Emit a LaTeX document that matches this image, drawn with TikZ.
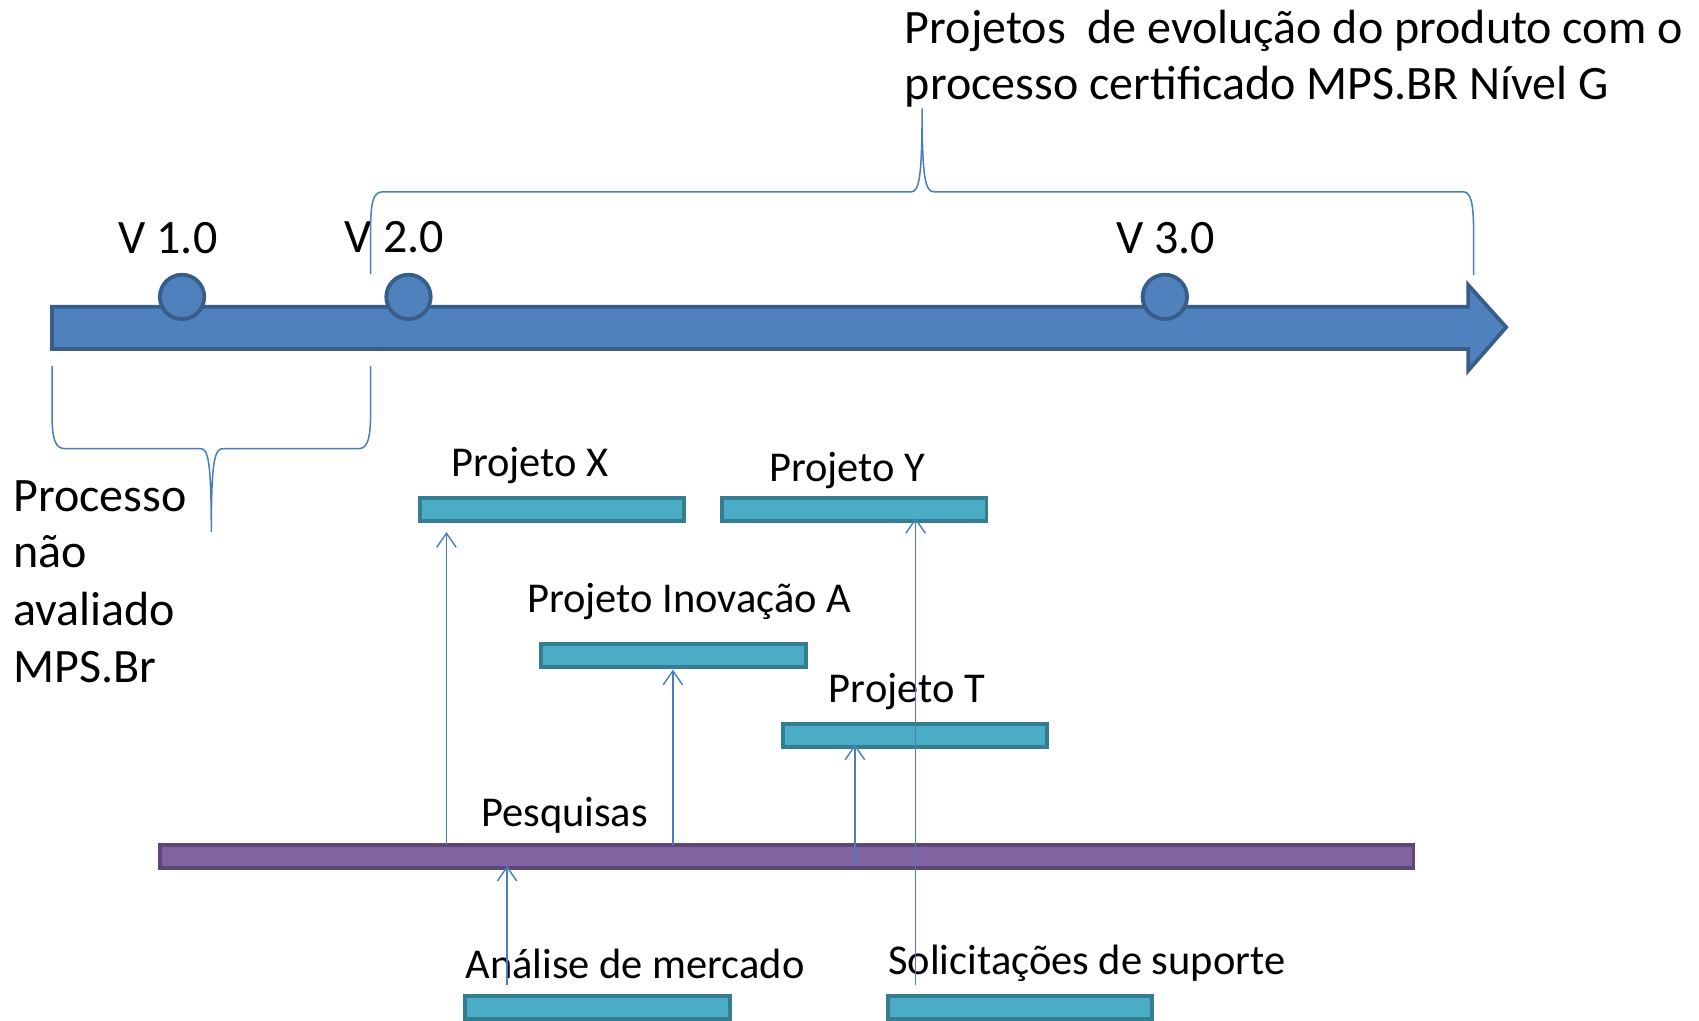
\documentclass[tikz,border=0pt]{standalone}
\usepackage{fontspec}
\setmainfont{Carlito}
\usetikzlibrary{arrows.meta}
\definecolor{arrowfill}{HTML}{4F81BD}
\definecolor{arrowline}{HTML}{385D8A}
\definecolor{boxfill}{HTML}{4BACC6}
\definecolor{boxline}{HTML}{357D91}
\definecolor{purpfill}{HTML}{8064A2}
\definecolor{purpline}{HTML}{5C4776}
\definecolor{conn}{HTML}{4A7EBB}
\tikzset{
  big/.style={font=\fontsize{44.3}{53}\selectfont, inner sep=0pt},
  small/.style={font=\fontsize{39.2}{47}\selectfont, inner sep=0pt},
  milestone/.style={circle, draw=arrowline, fill=arrowfill, line width=3.5pt, minimum size=41pt, inner sep=0pt},
  bar/.style={draw=boxline, fill=boxfill, line width=3.5pt, minimum width=244pt, minimum height=21pt, inner sep=0pt},
  pbar/.style={draw=purpline, fill=purpfill, line width=3.5pt, minimum width=1157pt, minimum height=21pt, inner sep=0pt},
  brace/.style={draw=conn, line width=1.4pt},
  link/.style={draw=conn, line width=1.3pt, -{Straight Barb[length=13pt, width=18pt, line width=1.3pt]}}
}
\begin{document}
\begin{tikzpicture}[x=1pt, y=-1pt]
\useasboundingbox (0,0) rectangle (1568,942);
% main timeline arrow
\draw[draw=arrowline, fill=arrowfill, line width=3.5pt, line join=miter]
  (48,283) -- (1355,283) -- (1355,263) -- (1390,302) -- (1355,342) -- (1355,322) -- (48,322) -- cycle;
\node[milestone] (m1) at (168,274) {};
\node[milestone] (m2) at (377,274) {};
\node[milestone] (m3) at (1075,274) {};
\node[big, anchor=base] (v1) at (155,234) {V 1.0};
\node[big, anchor=base] (v2) at (364,233) {V 2.0};
\node[big, anchor=base] (v3) at (1076,234) {V 3.0};
% upper brace
\draw[brace] (342,253) -- (342,215) .. controls (342,183) and (345,177) .. (354,177) -- (841,177)
  .. controls (848,177) and (851,165) .. (851,100)
  .. controls (851,165) and (854,177) .. (862,177) -- (1350,177)
  .. controls (1357,177) and (1360,185) .. (1360,215) -- (1360,254);
\node[big, anchor=base west] (t1) at (835,40) {Projetos\ \ de evolução do produto com o};
\node[big, anchor=base west] (t2) at (835,92) {processo certificado MPS.BR Nível G};
% lower brace
\draw[brace] (48,338) -- (48,382) .. controls (48,408) and (52,414) .. (60,414) -- (185,414)
  .. controls (192,414) and (195,425) .. (195,491)
  .. controls (195,425) and (198,414) .. (206,414) -- (331,414)
  .. controls (338,414) and (342,408) .. (342,382) -- (342,338);
\node[big, anchor=base west] (p1) at (12,472) {Processo};
\node[big, anchor=base west] (p2) at (12,524) {não};
\node[big, anchor=base west] (p3) at (12,577) {avaliado};
\node[big, anchor=base west] (p4) at (12,630) {MPS.Br};
% project bars
\node[bar] (bx) at (509.5,470) {};
\node[bar] (by) at (788.5,470) {};
\node[bar] (ba) at (621.5,605) {};
\node[bar] (bt) at (844.5,679) {};
\node[pbar] (bp) at (726,790.5) {};
\node[bar] (bm) at (551.5,930) {};
\node[bar] (bs) at (941.5,930) {};
\node[small, anchor=base] (lx) at (489,440) {Projeto X};
\node[small, anchor=base] (ly) at (782,444) {Projeto Y};
\node[small, anchor=base] (la) at (636,565) {Projeto Inovação A};
\node[small, anchor=base] (lt) at (837,648) {Projeto T};
\node[small, anchor=base] (lp) at (521,763) {Pesquisas};
\node[small, anchor=base] (lm) at (586,903) {Análise de mercado};
\node[small, anchor=base] (ls) at (1003,899) {Solicitações de suporte};
% connectors
\coordinate (a1s) at (412,780); \coordinate (a1e) at (412,491);
\coordinate (a2s) at (621,780); \coordinate (a2e) at (621,618);
\coordinate (a3s) at (789,798); \coordinate (a3e) at (789,687);
\coordinate (a4s) at (845,909); \coordinate (a4e) at (845,478);
\coordinate (a5s) at (468,909); \coordinate (a5e) at (468,799);
\draw[link] (a1s) -- (a1e);
\draw[link] (a2s) -- (a2e);
\draw[link] (a3s) -- (a3e);
\draw[link] (a4s) -- (a4e);
\draw[link] (a5s) -- (a5e);
\end{tikzpicture}
\end{document}
